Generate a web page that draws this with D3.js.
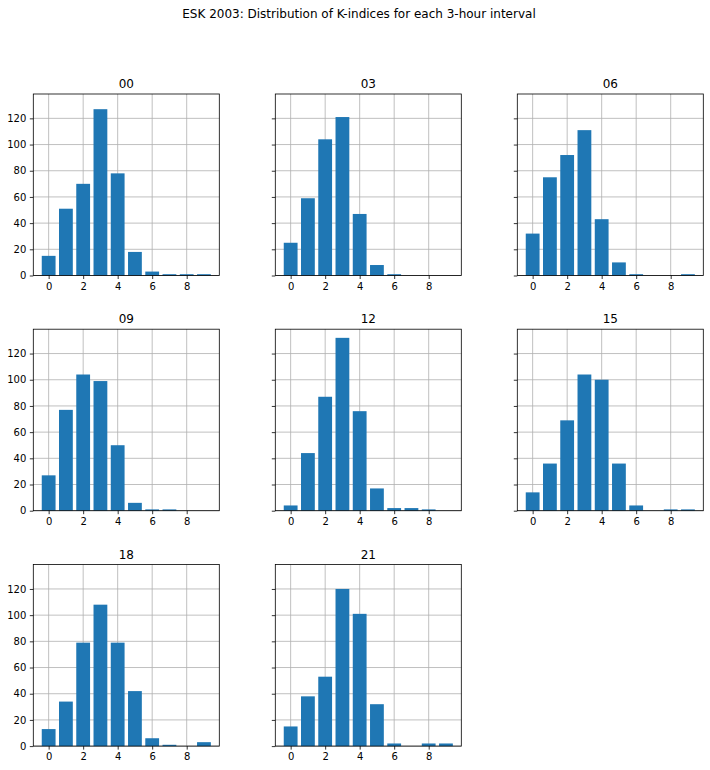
<!DOCTYPE html>
<html>
<head>
<meta charset="utf-8">
<script src="https://cdn.jsdelivr.net/npm/d3@7"></script>
<style>
  body { margin: 0; background: #fff; }
  svg text { font-family: "DejaVu Sans", sans-serif; }
</style>
</head>
<body>
<div id="chart"></div>
<script>
// K-index values 0..9 and counts per 3-hour interval (ESK 2003)
const kValues = [0, 1, 2, 3, 4, 5, 6, 7, 8, 9];
const intervals = ["00", "03", "06", "09", "12", "15", "18", "21"];
const counts00 = [15, 51, 70, 127, 78, 18, 3, 1, 1, 1];
const counts03 = [25, 59, 104, 121, 47, 8, 1, 0, 0, 0];
const counts06 = [32, 75, 92, 111, 43, 10, 1, 0, 0, 1];
const counts09 = [27, 77, 104, 99, 50, 6, 1, 1, 0, 0];
const counts12 = [4, 44, 87, 132, 76, 17, 2, 2, 1, 0];
const counts15 = [14, 36, 69, 104, 100, 36, 4, 0, 1, 1];
const counts18 = [13, 34, 79, 108, 79, 42, 6, 1, 0, 3];
const counts21 = [15, 38, 53, 120, 101, 32, 2, 0, 2, 2];
const xTicks = [0, 2, 4, 6, 8];
const yTicks = [0, 20, 40, 60, 80, 100, 120];
const allCounts = [counts00, counts03, counts06, counts09, counts12, counts15, counts18, counts21];

const W = 710, H = 770;
const axW = 186, axH = 181.5;
const colX = [33.3, 275.3, 517.3];
const rowY = [94, 329.2, 564.6];
const barWidth = 0.8;

const svg = d3.select("#chart").append("svg")
  .attr("width", W)
  .attr("height", H);

svg.append("text")
  .attr("x", 359)
  .attr("y", 18)
  .attr("text-anchor", "middle")
  .attr("font-size", "12px")
  .attr("fill", "#000")
  .text("ESK 2003: Distribution of K-indices for each 3-hour interval");

const yMax = d3.max(allCounts, c => d3.max(c)) * 1.05;
const xPad = (9 + barWidth - 0) * 0.05;

const x = d3.scaleLinear()
  .domain([-barWidth / 2 - xPad, 9 + barWidth / 2 + xPad])
  .range([0, axW]);

const y = d3.scaleLinear()
  .domain([0, yMax])
  .range([axH, 0]);

intervals.forEach((name, i) => {
  const col = i % 3, row = Math.floor(i / 3);
  const data = kValues.map((k, j) => ({ k: k, n: allCounts[i][j] }));

  const g = svg.append("g")
    .attr("transform", "translate(" + colX[col] + "," + rowY[row] + ")");

  // grid
  g.append("g").selectAll("line")
    .data(xTicks).enter().append("line")
    .attr("x1", d => x(d)).attr("x2", d => x(d))
    .attr("y1", 0).attr("y2", axH)
    .attr("stroke", "#b0b0b0").attr("stroke-width", 0.8);

  g.append("g").selectAll("line")
    .data(yTicks).enter().append("line")
    .attr("y1", d => y(d)).attr("y2", d => y(d))
    .attr("x1", 0).attr("x2", axW)
    .attr("stroke", "#b0b0b0").attr("stroke-width", 0.8);

  g.selectAll("rect")
    .data(data.filter(d => d.n > 0))
    .enter().append("rect")
    .style("fill", "#1f77b4")
    .attr("x", d => x(d.k - barWidth / 2))
    .attr("width", x(barWidth) - x(0))
    .attr("y", d => y(d.n))
    .attr("height", d => axH - y(d.n));

  const xAxis = d3.axisBottom(x)
    .tickValues(xTicks)
    .tickSize(3.5)
    .tickPadding(3.5)
    .tickFormat(d3.format("d"));

  const xa = g.append("g")
    .attr("transform", "translate(0," + axH + ")")
    .call(xAxis);
  xa.select(".domain").remove();

  const yAxis = d3.axisLeft(y)
    .tickValues(yTicks)
    .tickSize(3.5)
    .tickPadding(3.5)
    .tickFormat(col === 0 ? d3.format("d") : "");

  const ya = g.append("g").call(yAxis);
  ya.select(".domain").remove();

  [xa, ya].forEach(a => {
    a.selectAll(".tick line").attr("stroke", "#000").attr("stroke-width", 0.8);
    a.selectAll(".tick text").attr("font-size", "10px").attr("fill", "#000")
      .attr("font-family", "DejaVu Sans");
  });

  // frame
  g.append("rect")
    .attr("width", axW).attr("height", axH)
    .attr("fill", "none")
    .attr("stroke", "#000").attr("stroke-width", 0.8);

  g.append("text")
    .attr("x", axW / 2)
    .attr("y", -6)
    .attr("text-anchor", "middle")
    .attr("font-size", "12px")
    .attr("fill", "#000")
    .text(name);
});
</script>
</body>
</html>
